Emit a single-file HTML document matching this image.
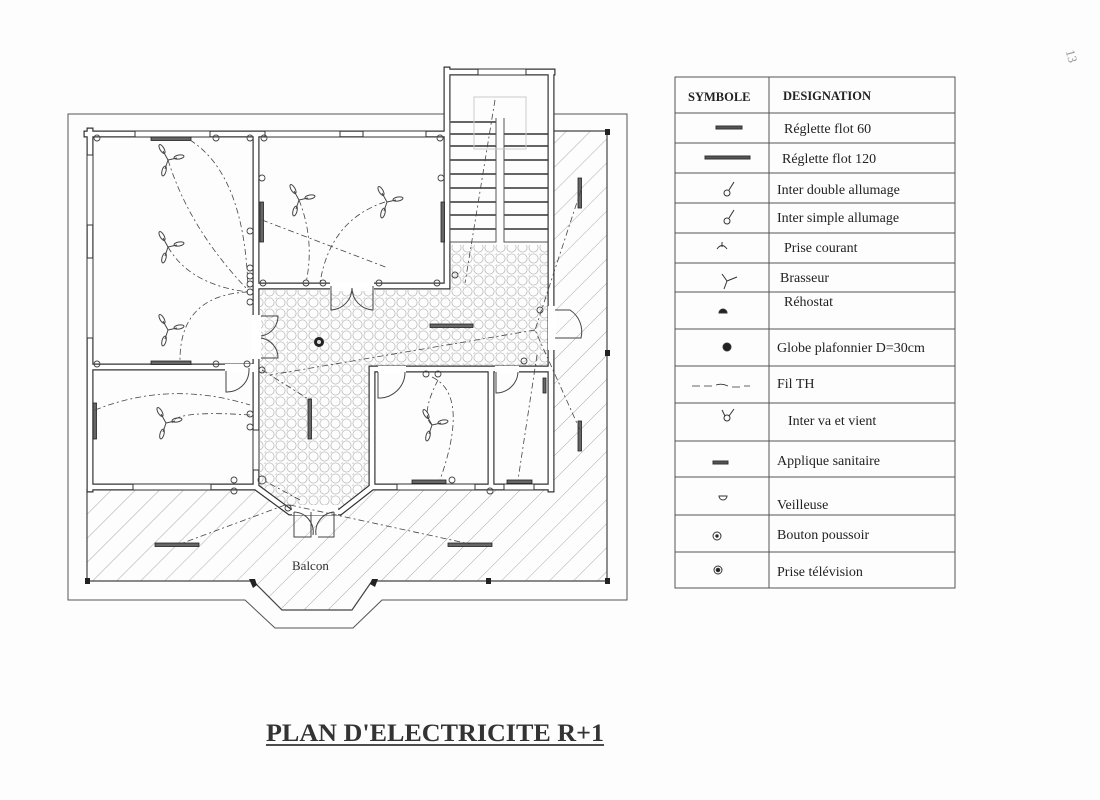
<!DOCTYPE html>
<html><head><meta charset="utf-8"><style>
html,body{margin:0;padding:0;background:#fff;}
svg{display:block;font-family:"Liberation Serif",serif;}
</style></head><body>
<svg width="1100" height="800" viewBox="0 0 1100 800" xmlns="http://www.w3.org/2000/svg">
<defs>
<pattern id="hatch" width="17" height="17" patternUnits="userSpaceOnUse" patternTransform="rotate(45)">
<line x1="0" y1="0" x2="0" y2="17" stroke="#aaa" stroke-width="1"/>
</pattern>
<pattern id="circ" width="11" height="11" patternUnits="userSpaceOnUse">
<circle cx="5.5" cy="5.5" r="4.6" fill="none" stroke="#bbb" stroke-width="0.8"/>
<rect x="-1.5" y="-1.5" width="3" height="3" fill="none" stroke="#ccc" stroke-width="0.6"/>
</pattern>
<g id="fan" stroke="#444" fill="none" stroke-width="1">
<line x1="0" y1="0" x2="-5" y2="-9"/><ellipse cx="-6" cy="-11" rx="2" ry="5" transform="rotate(-30 -6 -11)"/>
<line x1="0" y1="0" x2="9" y2="-2"/><ellipse cx="11" cy="-3" rx="5" ry="2" transform="rotate(-10 11 -3)"/>
<line x1="0" y1="0" x2="-3" y2="9"/><ellipse cx="-4" cy="11" rx="2" ry="5" transform="rotate(15 -4 11)"/>
</g>
</defs>
<rect width="1100" height="800" fill="#fdfdfd"/>

<path d="M553 131 H607 V581 H372 L352 610 H282 L253 581 H87 V489 H256 L290 512 H340 L372 489 H553 Z" fill="url(#hatch)"/>
<path d="M260 290 H445 V245 H548 V367 H372 V487 L340 510 H290 L260 487 Z" fill="url(#circ)"/>

<path d="M445 114 H68 V600 H245 L275 628 H353 L382 600 H627 V114 H553" fill="none" stroke="#555" stroke-width="1"/>
<path d="M553 131 H607 V581 H372 L352 610 H282 L253 581 H87 V489" fill="none" stroke="#444" stroke-width="1.2"/>
<rect x="605" y="129" width="5" height="6" fill="#222"/><rect x="605" y="578" width="5" height="6" fill="#222"/>
<rect x="85" y="578" width="5" height="6" fill="#222"/><rect x="486" y="578" width="5" height="6" fill="#222"/>
<rect x="605" y="350" width="5" height="6" fill="#222"/>
<path d="M249 579 l6 0 l2 6 l-4 3z M372 579 l6 0 l-3 8 l-5 -3z" fill="#222"/>

<g fill="none" stroke-linecap="square">
<path d="M87 134 H447 M90 131 V489 M256 134 V487 M256 286 H447 M447 70 V286 M447 72 H552 M551 72 V489 M90 367 H256 M372 369 H551 M90 487 H256 M372 369 V487 M491 369 V487 M372 487 H551 M256 487 L290 512 H340 L372 487" stroke="#333" stroke-width="7"/>
<path d="M87 134 H447 M90 131 V489 M256 134 V487 M256 286 H447 M447 70 V286 M447 72 H552 M551 72 V489 M90 367 H256 M372 369 H551 M90 487 H256 M372 369 V487 M491 369 V487 M372 487 H551 M256 487 L290 512 H340 L372 487" stroke="#fff" stroke-width="4.6"/>
</g>
<g fill="#fff" stroke="#333" stroke-width="1">
<rect x="135" y="131" width="75" height="6"/><rect x="265" y="131" width="75" height="6"/><rect x="363" y="131" width="63" height="6"/>
<rect x="87" y="155" width="6" height="70"/><rect x="87" y="258" width="6" height="80"/>
<rect x="133" y="484" width="78" height="6"/><rect x="397" y="484" width="78" height="6"/><rect x="504" y="484" width="30" height="6"/>
<rect x="478" y="69" width="48" height="6"/><rect x="253" y="430" width="6" height="40"/>
</g>
<g fill="#fff" stroke="#444" stroke-width="1">
<rect x="330" y="282" width="44" height="9" stroke="none"/>
<path d="M331 286 V310 A22 22 0 0 0 352 288 M373 286 V310 A22 22 0 0 1 352 288" fill="none"/>
<rect x="252" y="315" width="9" height="44" stroke="none"/>
<path d="M261 316 H278 A20 20 0 0 1 261 336 M261 358 H278 A20 20 0 0 0 261 338" fill="none"/>
<rect x="225" y="364" width="30" height="8" stroke="none"/>
<path d="M226 371 V392 A22 22 0 0 0 249 371 V368" fill="none"/>
<rect x="378" y="366" width="28" height="8" stroke="none"/>
<path d="M378 372 V398 A26 26 0 0 0 405 372" fill="none"/>
<rect x="495" y="366" width="24" height="8" stroke="none"/>
<path d="M496 372 V393 A22 22 0 0 0 518 372" fill="none"/>
<rect x="548" y="306" width="8" height="44" stroke="none"/>
<path d="M555 310 H570 A26 26 0 0 1 581 338 H555" fill="none"/>
<rect x="292" y="505" width="46" height="10" stroke="none"/>
<path d="M294 512 V537 H311 V512 M294 512 A20 20 0 0 1 313 535 M334 512 V537 H318 M334 512 A20 20 0 0 0 316 535" fill="none"/>
</g>
<g stroke="#333" stroke-width="1.5">
<line x1="450" y1="122" x2="496" y2="122"/><line x1="450" y1="134" x2="496" y2="134"/><line x1="450" y1="146" x2="496" y2="146"/><line x1="450" y1="160" x2="496" y2="160"/><line x1="450" y1="174" x2="496" y2="174"/><line x1="450" y1="188" x2="496" y2="188"/><line x1="450" y1="202" x2="496" y2="202"/><line x1="450" y1="215" x2="496" y2="215"/><line x1="450" y1="229" x2="496" y2="229"/>
<line x1="504" y1="134" x2="548" y2="134"/><line x1="504" y1="146" x2="548" y2="146"/><line x1="504" y1="160" x2="548" y2="160"/><line x1="504" y1="174" x2="548" y2="174"/><line x1="504" y1="188" x2="548" y2="188"/><line x1="504" y1="202" x2="548" y2="202"/><line x1="504" y1="215" x2="548" y2="215"/><line x1="504" y1="229" x2="548" y2="229"/>
</g>
<g fill="none" stroke="#555" stroke-width="1">
<path d="M450 120 V242 H496 V118 M504 118 V242 H548"/>
<rect x="474" y="97" width="52" height="52" stroke="#ccc"/>
</g>

<g fill="#666" stroke="#222" stroke-width="0.8">
<rect x="151" y="137" width="40" height="3.5"/><rect x="151" y="361" width="40" height="3.5"/>
<rect x="260" y="202" width="3.5" height="40"/><rect x="441" y="202" width="3.5" height="40"/>
<rect x="430" y="324" width="43" height="3.5"/><rect x="308" y="399" width="3.5" height="40"/>
<rect x="93" y="403" width="3.5" height="36"/><rect x="578" y="178" width="3.5" height="30"/>
<rect x="578" y="421" width="3.5" height="30"/><rect x="155" y="543" width="44" height="3.5"/>
<rect x="448" y="543" width="44" height="3.5"/><rect x="412" y="480" width="34" height="3.5"/>
<rect x="507" y="480" width="25" height="3.5"/><rect x="543" y="378" width="3" height="15"/>
</g>
<circle cx="319" cy="342" r="5" fill="#222"/><circle cx="319" cy="342" r="2" fill="#ddd"/>

<use href="#fan" x="168" y="160"/><use href="#fan" x="168" y="247"/><use href="#fan" x="168" y="330"/>
<use href="#fan" x="299" y="200"/><use href="#fan" x="387" y="202"/><use href="#fan" x="166" y="423"/><use href="#fan" x="432" y="425"/>

<g fill="none" stroke="#444" stroke-width="0.9">
<circle cx="97" cy="138" r="3"/><circle cx="216" cy="138" r="3"/><circle cx="250" cy="138" r="3"/><circle cx="264" cy="138" r="3"/><circle cx="440" cy="138" r="3"/>
<circle cx="262" cy="178" r="3"/><circle cx="441" cy="178" r="3"/><circle cx="250" cy="231" r="3"/>
<circle cx="250" cy="268" r="3"/><circle cx="250" cy="276" r="3"/><circle cx="250" cy="284" r="3"/><circle cx="250" cy="292" r="3"/><circle cx="250" cy="302" r="3"/>
<circle cx="263" cy="283" r="3"/><circle cx="306" cy="283" r="3"/><circle cx="323" cy="283" r="3"/><circle cx="379" cy="283" r="3"/><circle cx="437" cy="283" r="3"/>
<circle cx="97" cy="364" r="3"/><circle cx="216" cy="364" r="3"/><circle cx="247" cy="364" r="3"/><circle cx="262" cy="370" r="3"/>
<circle cx="250" cy="414" r="3"/><circle cx="250" cy="427" r="3"/><circle cx="234" cy="480" r="3"/><circle cx="234" cy="491" r="3"/>
<circle cx="262" cy="480" r="4"/><circle cx="288" cy="508" r="3"/><circle cx="426" cy="374" r="3"/><circle cx="438" cy="374" r="3"/>
<circle cx="452" cy="480" r="3"/><circle cx="490" cy="491" r="3"/><circle cx="540" cy="310" r="3"/><circle cx="524" cy="361" r="3"/><circle cx="455" cy="275" r="3"/>
</g>

<g fill="none" stroke="#444" stroke-width="0.8" stroke-dasharray="6 3 2 3">
<path d="M190 140 Q245 175 248 290"/><path d="M168 160 Q190 230 248 290"/><path d="M168 247 Q190 285 248 292"/>
<path d="M248 292 Q180 295 180 360"/><path d="M262 220 L388 268"/><path d="M385 202 Q330 220 320 283"/>
<path d="M299 200 Q315 240 306 283"/><path d="M495 100 L465 283"/><path d="M581 190 L535 330 L580 430"/>
<path d="M535 330 L270 375"/><path d="M262 370 L310 400"/><path d="M95 410 Q170 380 250 405"/>
<path d="M250 415 Q175 410 172 423"/><path d="M438 380 Q420 415 432 425"/><path d="M432 377 Q470 395 440 480"/>
<path d="M537 355 L518 480"/><path d="M285 505 L180 544"/><path d="M290 505 L470 544"/><path d="M300 500 L263 480"/>
</g>

<text x="292" y="570" font-size="13" fill="#333">Balcon</text>

<g stroke="#555" stroke-width="1" fill="none">
<rect x="675" y="77" width="280" height="511"/>
<line x1="769" y1="77" x2="769" y2="588"/>
<path d="M675 113 H955 M675 143 H955 M675 173 H955 M675 203 H955 M675 233 H955 M675 263 H955 M675 292 H955 M675 329 H955 M675 366 H955 M675 403 H955 M675 441 H955 M675 477 H955 M675 515 H955 M675 552 H955"/>
</g>
<g font-size="14" fill="#222">
<text x="688" y="101" font-weight="bold" font-size="12.5">SYMBOLE</text>
<text x="783" y="100" font-weight="bold" font-size="12.5">DESIGNATION</text>
<text x="784" y="133">Réglette flot 60</text>
<text x="782" y="163">Réglette flot 120</text>
<text x="777" y="194">Inter double allumage</text>
<text x="777" y="222">Inter simple allumage</text>
<text x="784" y="252">Prise courant</text>
<text x="780" y="282">Brasseur</text>
<text x="784" y="306">Réhostat</text>
<text x="777" y="352">Globe plafonnier D=30cm</text>
<text x="777" y="388">Fil TH</text>
<text x="788" y="425">Inter va et vient</text>
<text x="777" y="465">Applique sanitaire</text>
<text x="777" y="509">Veilleuse</text>
<text x="777" y="539">Bouton poussoir</text>
<text x="777" y="576">Prise télévision</text>
</g>
<g stroke="#333" stroke-width="1" fill="none">
<rect x="716" y="126" width="26" height="3" fill="#555"/>
<rect x="705" y="156" width="45" height="3" fill="#555"/>
<circle cx="727" cy="193" r="3"/><path d="M729 190 L734 182"/>
<circle cx="727" cy="221" r="3"/><path d="M729 218 L734 210"/>
<path d="M717 249 Q722 242 727 249 M722 242 V247"/>
<path d="M724 289 L727 281 M727 281 L722 274 M727 281 L737 277"/>
<path d="M719 313 A4 4 0 0 1 727 313 Z" fill="#222"/>
<circle cx="727" cy="347" r="4" fill="#222"/>
<path d="M692 386 H700 M704 386 H712 M716 385 Q722 383 728 386 M732 387 H740 M744 386 H750" stroke-width="0.8"/>
<circle cx="727" cy="418" r="3"/><path d="M725 416 L722 410 M729 416 L734 409"/>
<rect x="713" y="461" width="15" height="3" fill="#555"/>
<path d="M719 496 A3 3 0 0 0 727 496 Z"/>
<circle cx="717" cy="536" r="4"/><circle cx="717" cy="536" r="1.2" fill="#222"/>
<circle cx="718" cy="570" r="4"/><circle cx="718" cy="570" r="1.8" fill="#222"/>
</g>

<text x="266" y="741" font-size="25" font-weight="bold" fill="#333" textLength="338" lengthAdjust="spacingAndGlyphs">PLAN D'ELECTRICITE R+1</text>
<line x1="266" y1="745" x2="604" y2="745" stroke="#333" stroke-width="1.8"/>
<text x="1068" y="62" font-size="13" fill="#999" transform="rotate(75 1074 55)">13</text>
</svg>
</body></html>
